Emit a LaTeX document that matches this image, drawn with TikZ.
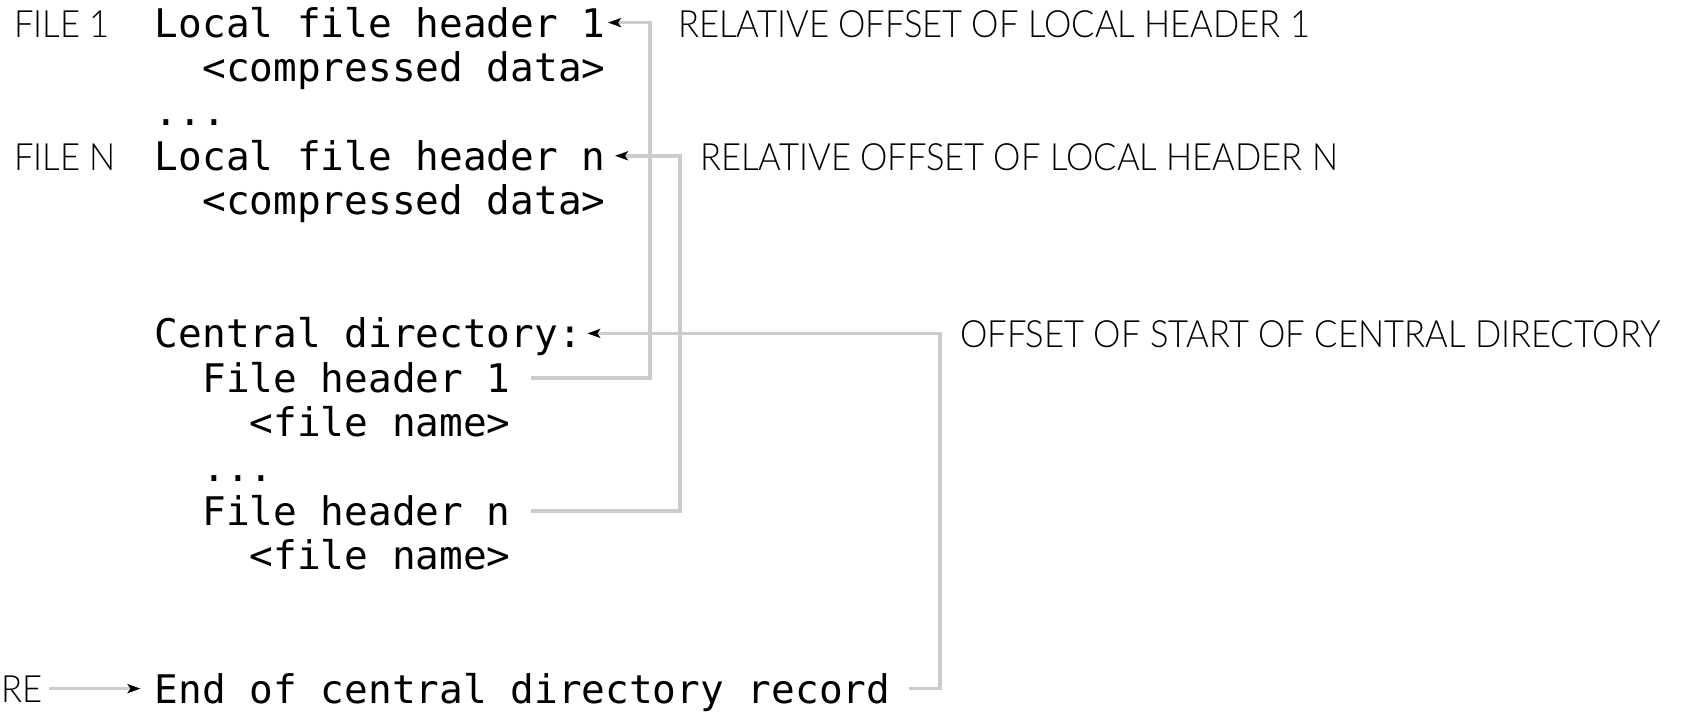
\documentclass[tikz,border=0pt]{standalone}
\usepackage{fontspec}
\usetikzlibrary{arrows.meta}
\newfontfamily\codefont{DejaVu Sans Mono}
\newfontfamily\notefont{Lato Light}[FakeStretch=0.92]
\definecolor{linkgray}{RGB}{204,204,204}
\tikzset{
  code/.style={font=\codefont\fontsize{19.7pt}{22pt}\selectfont, anchor=base west,
    inner sep=0pt, text height=14.4pt, text depth=0pt},
  note/.style={font=\notefont\fontsize{18.8pt}{22pt}\selectfont, anchor=base west,
    inner sep=0pt, text height=13.5pt, text depth=0pt},
  link/.style={draw=linkgray, line width=1.8pt,
    -{Stealth[color=black, length=6.5pt, width=4.5pt, inset=1.5pt]}},
}
\begin{document}
\begin{tikzpicture}[x=0.5pt, y=-0.5pt]
\useasboundingbox (0,0) rectangle (1686,712);

% file records
\node[code] (lfh1) at (154.5, 37.0) {Local file header 1};
\node[code] (cd1)  at (201.9, 81.4) {<compressed data>};
\node[code] (dot1) at (154.5,125.8) {...};
\node[code] (lfhn) at (154.5,170.2) {Local file header n};
\node[code] (cdn)  at (201.9,214.6) {<compressed data>};

% central directory
\node[code] (cdir) at (154.5,347.8) {Central directory:};
\node[code] (fh1)  at (201.9,392.2) {File header 1};
\node[code] (fn1)  at (249.4,436.6) {<file name>};
\node[code] (dot2) at (201.9,481.0) {...};
\node[code] (fhn)  at (201.9,525.4) {File header n};
\node[code] (fnn)  at (249.4,569.8) {<file name>};
\node[code] (eocd) at (154.5,703.0) {End of central directory record};

% annotations
\node[note] (file1) at (14, 37.0) {FILE 1};
\node[note] (filen) at (14,170.2) {FILE N};
\node[note] (off1) at (678, 37.0) {RELATIVE OFFSET OF LOCAL HEADER 1};
\node[note] (offn) at (700,170.2) {RELATIVE OFFSET OF LOCAL HEADER N};
\node[note] (offc) at (960,347.8) {OFFSET OF START OF CENTRAL DIRECTORY};
\node[note, anchor=east] (re) at (43,688.6) {RE};

% offset connectors
\coordinate (v1) at (650,0);
\coordinate (v2) at (680,0);
\coordinate (v3) at (940,0);
\draw[link] ([xshift=10pt]fh1.east) -| (v1 |- lfh1.east) -- ([xshift=1pt]lfh1.east);
\draw[link] ([xshift=10pt]fhn.east) -| (v2 |- lfhn.east) -- ([xshift=4.5pt]lfhn.east);
\draw[link] ([xshift=9pt]eocd.east) -| (v3 |- cdir.east) -- ([xshift=2.5pt]cdir.east);
\draw[link, shorten <=3pt, shorten >=7pt] (re) -- (eocd.west);
\end{tikzpicture}
\end{document}
